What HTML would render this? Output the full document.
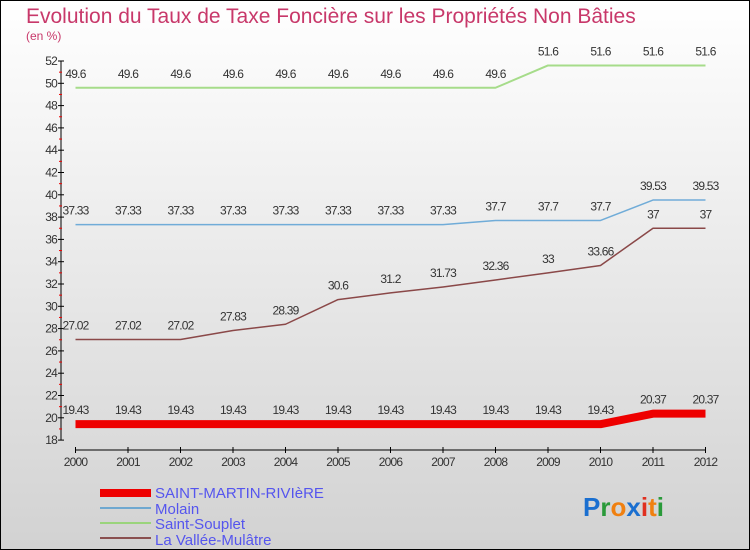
<!DOCTYPE html>
<html><head><meta charset="utf-8">
<style>
body{margin:0;width:750px;height:550px;overflow:hidden;font-family:"Liberation Sans",sans-serif}
svg{display:block}
</style></head><body>
<svg width="750" height="550" xmlns="http://www.w3.org/2000/svg">
<defs><linearGradient id="bg" x1="0" y1="0" x2="0" y2="1"><stop offset="0" stop-color="#ffffff"/><stop offset="1" stop-color="#d2d2d2"/></linearGradient></defs>
<rect x="0.5" y="0.5" width="749" height="549" fill="url(#bg)" stroke="#000"/>
<text x="26" y="23" font-size="21" fill="#c8386a">Evolution du Taux de Taxe Foncière sur les Propriétés Non Bâties</text>
<text x="26" y="40" font-size="12" fill="#c8386a">(en %)</text>
<g id="axes"></g>
<g id="series"></g>
<g>
<rect x="100" y="489" width="51" height="8" fill="#e00"/>
<text x="155" y="498" font-size="15" fill="#5555ee">SAINT-MARTIN-RIVIèRE</text>
<rect x="100" y="507" width="51" height="2" fill="#6fa8d0"/>
<text x="155" y="514" font-size="15" fill="#5555ee">Molain</text>
<rect x="100" y="522" width="51" height="2" fill="#9ad47c"/>
<text x="155" y="529" font-size="15" fill="#5555ee">Saint-Souplet</text>
<rect x="100" y="537" width="51" height="2" fill="#8a5050"/>
<text x="155" y="545" font-size="15" fill="#5555ee">La Vallée-Mulâtre</text>
</g>
<text x="583" y="516" font-size="26" font-weight="bold"><tspan fill="#1a6fd0">P</tspan><tspan fill="#2a9a3a">r</tspan><tspan fill="#f08010">o</tspan><tspan fill="#1a6fd0">x</tspan><tspan fill="#e03020">i</tspan><tspan fill="#f08010">t</tspan><tspan fill="#2a9a3a">i</tspan></text>
</svg>
<script>
const years=[2000,2001,2002,2003,2004,2005,2006,2007,2008,2009,2010,2011,2012];
const yTicks=[18,20,22,24,26,28,30,32,34,36,38,40,42,44,46,48,50,52];
const stMartin=[19.43,19.43,19.43,19.43,19.43,19.43,19.43,19.43,19.43,19.43,19.43,20.37,20.37];
const molain=[37.33,37.33,37.33,37.33,37.33,37.33,37.33,37.33,37.7,37.7,37.7,39.53,39.53];
const stSouplet=[49.6,49.6,49.6,49.6,49.6,49.6,49.6,49.6,49.6,51.6,51.6,51.6,51.6];
const vallee=[27.02,27.02,27.02,27.83,28.39,30.6,31.2,31.73,32.36,33,33.66,37,37];
const NS="http://www.w3.org/2000/svg";
const xS=i=>75.5+i*52.5;
const yS=v=>61+(52-v)*11.15;
function mk(t,a,p){const e=document.createElementNS(NS,t);for(const k in a)e.setAttribute(k,a[k]);p.appendChild(e);return e;}
const ax=document.getElementById('axes');
mk('line',{x1:61,y1:61,x2:61,y2:440,stroke:'#000','stroke-width':1},ax);
mk('line',{x1:75,y1:450,x2:706,y2:450,stroke:'#000','stroke-width':1},ax);
yTicks.forEach(v=>{const y=yS(v);
 mk('line',{x1:58,y1:y,x2:64,y2:y,stroke:'#000'},ax);
 if(v<52)mk('line',{x1:59,y1:y-11.15,x2:62,y2:y-11.15,stroke:'#e00'},ax);
 const t=mk('text',{x:57,y:y+4,'text-anchor':'end','font-size':12,fill:'#333','letter-spacing':'-0.8'},ax);t.textContent=v;
 
 
});
years.forEach((yr,i)=>{const x=xS(i);
 mk('line',{x1:x,y1:447,x2:x,y2:453,stroke:'#000'},ax);
 const t=mk('text',{x:x,y:466,'text-anchor':'middle','font-size':12,fill:'#333','letter-spacing':'-0.8'},ax);t.textContent=yr;
 
 
});
const sg=document.getElementById('series');
function series(data,name,lc,lw,pc,pr,dc){
 const g=mk('g',{},sg);
 
 
 mk('polyline',{points:data.map((v,i)=>xS(i)+','+yS(v)).join(' '),fill:'none',stroke:lc,'stroke-width':lw,'stroke-linejoin':'round'},g);
 data.forEach((v,i)=>{
  const cx=xS(i),cy=yS(v);
  const d='M'+(cx-pr)+' '+cy+' a'+pr+' '+pr+' 0 1 0 '+(2*pr)+' 0 a'+pr+' '+pr+' 0 1 0 '+(-2*pr)+' 0 Z';
  const c=mk('path',{d:d,fill:pc,stroke:dc,'stroke-width':0.8},g);
  
  
  const t=mk('text',{x:cx,y:cy-10,'text-anchor':'middle','font-size':12,fill:'#333','letter-spacing':'-0.8'},g);
  t.textContent=String(v);
  
  
 });
}
series(stSouplet,'saint-souplet','#a6dc8a',2,'#72c440','#4a9a28',3.5);
series(molain,'molain','#70acd8',1.5,'#3a88c8','#2a60a0',3.5);
series(vallee,'la-vallee','#8a4848',1.5,'#6a1818','#440000',3.5);
series(stMartin,'saint-martin','#ee0000',8,'#ee0000','#bb0000',7);
</script>
</body></html>
